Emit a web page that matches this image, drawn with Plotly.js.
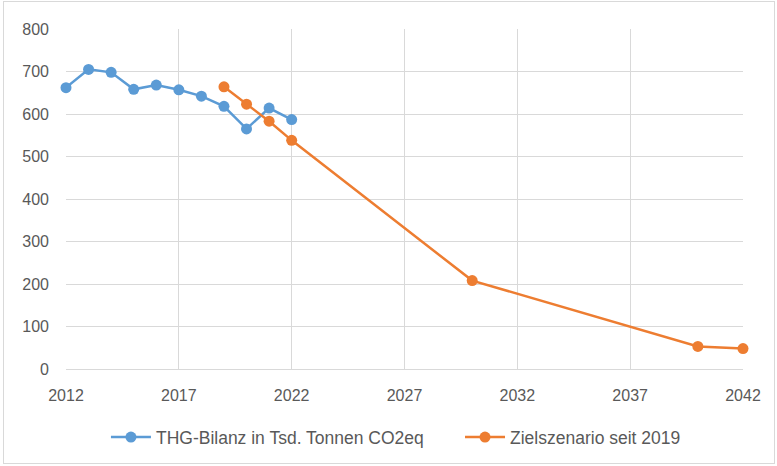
<!DOCTYPE html>
<html><head><meta charset="utf-8">
<script src="https://cdn.plot.ly/plotly-3.0.1.min.js"></script>
<style>
html,body{margin:0;padding:0;background:#fff;}
#wrap{position:relative;width:777px;height:466px;}
#chart{width:777px;height:466px;}
#frame{position:absolute;left:3px;top:1px;width:770px;height:461px;border:1px solid #d9d9d9;pointer-events:none;}
</style></head>
<body>
<div id="wrap"><div id="chart"></div><div id="frame"></div></div>
<script>
const blueYears = [2012,2013,2014,2015,2016,2017,2018,2019,2020,2021,2022];
const blueValues = [662,705,698,658,668,657,642,618,565,614,587];
const orangeYears = [2019,2020,2021,2022,2030,2040,2042];
const orangeValues = [664,623,583,538,208,53,48];
const seriesNames = ["THG-Bilanz in Tsd. Tonnen CO2eq","Zielszenario seit 2019"];
const xTicks = [2012,2017,2022,2027,2032,2037,2042];
const yTicks = [0,100,200,300,400,500,600,700,800];

const font = {family:"Liberation Sans, Arial, sans-serif", size:16, color:"#595959"};
const legendFont = {family:"Liberation Sans, Arial, sans-serif", size:17.5, color:"#595959"};
const traces = [
  {x:blueYears, y:blueValues, name:seriesNames[0], type:"scatter", mode:"lines+markers", cliponaxis:false,
   legend:"legend",
   line:{color:"#5B9BD5", width:2.5}, marker:{color:"#5B9BD5", size:11}},
  {x:orangeYears, y:orangeValues, name:seriesNames[1], type:"scatter", mode:"lines+markers", cliponaxis:false,
   legend:"legend2",
   line:{color:"#ED7D31", width:2.5}, marker:{color:"#ED7D31", size:11}}
];
const legendBase = {orientation:"h", xanchor:"left", y:-0.197, yanchor:"middle", font:legendFont, itemwidth:40,
  bgcolor:"rgba(0,0,0,0)"};
const layout = {
  width:777, height:466,
  margin:{l:66, r:34, t:29, b:96},
  paper_bgcolor:"#fff", plot_bgcolor:"#fff",
  font:font,
  showlegend:true,
  legend:Object.assign({}, legendBase, {x:0.059}),
  legend2:Object.assign({}, legendBase, {x:0.582}),
  xaxis:{range:[2012,2042], tickvals:xTicks, ticktext:xTicks.map(String),
    showgrid:true, gridcolor:"#d9d9d9", gridwidth:1, zeroline:false,
    showline:true, linecolor:"#d9d9d9", ticks:"", ticklabelstandoff:12, tickfont:font, fixedrange:true},
  yaxis:{range:[0,800], tickvals:yTicks, ticktext:yTicks.map(String),
    showgrid:true, gridcolor:"#d9d9d9", gridwidth:1, zeroline:false, showline:false,
    ticks:"", ticklabelstandoff:16, tickfont:font, fixedrange:true}
};
Plotly.newPlot("chart", traces, layout, {displayModeBar:false, staticPlot:true});
</script>
</body></html>
